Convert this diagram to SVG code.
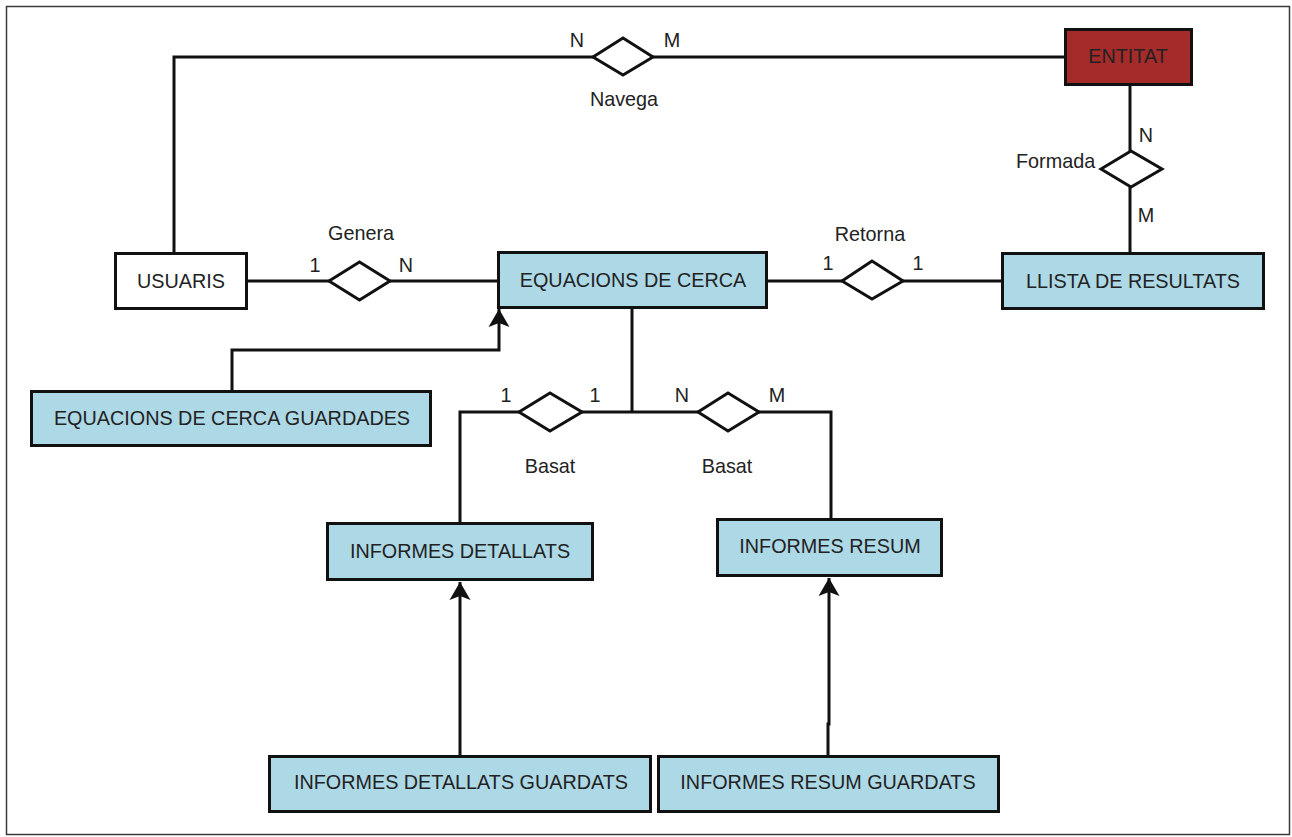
<svg xmlns="http://www.w3.org/2000/svg" width="1292" height="837" viewBox="0 0 1292 837">
<style>
.ent{stroke:#111;stroke-width:3}
.blue{fill:#ADD8E6}
.white{fill:#fff}
.red{fill:#A52A2A}
.rel{fill:#fff;stroke:#111;stroke-width:3;stroke-linejoin:miter}
.con{fill:none;stroke:#111;stroke-width:3}
text{font-family:"Liberation Sans",Arial,sans-serif;font-size:19.8px;fill:#222}
.c{text-anchor:middle}
</style>
<defs>
<marker id="arr" markerUnits="userSpaceOnUse" markerWidth="19" markerHeight="22" viewBox="0 0 19 22" refX="18" refY="11" orient="auto">
<path d="M18,11 L0,0.5 L4,11 L0,21.5 Z" fill="#111"/>
</marker>
</defs>
<rect x="6.5" y="6.5" width="1283" height="828" fill="#fff" stroke="#3a3a3a" stroke-width="1.5"/>
<g id="connectors">
<path class="con" d="M174,253 V57 H1065"/>
<path class="con" d="M1130,85 V253"/>
<path class="con" d="M247,281 H498"/>
<path class="con" d="M767,281 H1002"/>
<path class="con" d="M632,308 V412"/>
<path class="con" d="M460,523 V412 H831 V519"/>
<path class="con" d="M232,391 V350 H499 V309" marker-end="url(#arr)"/>
<path class="con" d="M460,756 V582" marker-end="url(#arr)"/>
<path class="con" d="M828,756 V724 H829 V578" marker-end="url(#arr)"/>
</g>
<g id="usuaris"><rect class="ent white" x="115.5" y="253.5" width="131" height="55"/><text class="c" x="181" y="288">USUARIS</text></g>
<g id="equacions"><rect class="ent blue" x="498.5" y="252.5" width="268" height="55"/><text class="c" x="633" y="287">EQUACIONS DE CERCA</text></g>
<g id="llista"><rect class="ent blue" x="1002.5" y="253.5" width="261" height="55"/><text class="c" x="1133" y="288">LLISTA DE RESULTATS</text></g>
<g id="entitat"><rect class="ent red" x="1065.5" y="29.5" width="126" height="55"/><text class="c" x="1128" y="63">ENTITAT</text></g>
<g id="equacions-guardades"><rect class="ent blue" x="31.5" y="391.5" width="399" height="54"/><text class="c" x="232" y="425">EQUACIONS DE CERCA GUARDADES</text></g>
<g id="informes-detallats"><rect class="ent blue" x="327.5" y="523.5" width="265" height="56"/><text class="c" x="460" y="558">INFORMES DETALLATS</text></g>
<g id="informes-resum"><rect class="ent blue" x="717.5" y="519.5" width="224" height="56"/><text class="c" x="830" y="553">INFORMES RESUM</text></g>
<g id="informes-detallats-guardats"><rect class="ent blue" x="269.5" y="756.5" width="381" height="55"/><text class="c" x="461" y="789">INFORMES DETALLATS GUARDATS</text></g>
<g id="informes-resum-guardats"><rect class="ent blue" x="658.5" y="756.5" width="340" height="55"/><text class="c" x="828" y="789">INFORMES RESUM GUARDATS</text></g>
<g id="navega"><polygon class="rel" points="593,57 623,38 653,57 623,75"/><text class="c" x="577" y="47">N</text><text class="c" x="672" y="47">M</text><text class="c" x="624" y="106">Navega</text></g>
<g id="formada"><polygon class="rel" points="1101,169 1131,151 1162,169 1131,187"/><text x="1016" y="168">Formada</text><text class="c" x="1146" y="142">N</text><text class="c" x="1146" y="222">M</text></g>
<g id="genera"><polygon class="rel" points="329,281 359.5,262 390,281 359.5,300"/><text class="c" x="361" y="240">Genera</text><text class="c" x="315" y="272">1</text><text class="c" x="406" y="272">N</text></g>
<g id="retorna"><polygon class="rel" points="842,281 872,261 903,281 872,299"/><text class="c" x="870" y="241">Retorna</text><text class="c" x="828" y="270">1</text><text class="c" x="918" y="270">1</text></g>
<g id="basat1"><polygon class="rel" points="519,412 550,393 582,412 550,431"/><text class="c" x="550" y="473">Basat</text><text class="c" x="506" y="402">1</text><text class="c" x="595" y="402">1</text></g>
<g id="basat2"><polygon class="rel" points="698,412 728,393 759,412 728,431"/><text class="c" x="727" y="473">Basat</text><text class="c" x="682" y="402">N</text><text class="c" x="777" y="402">M</text></g>
</svg>
